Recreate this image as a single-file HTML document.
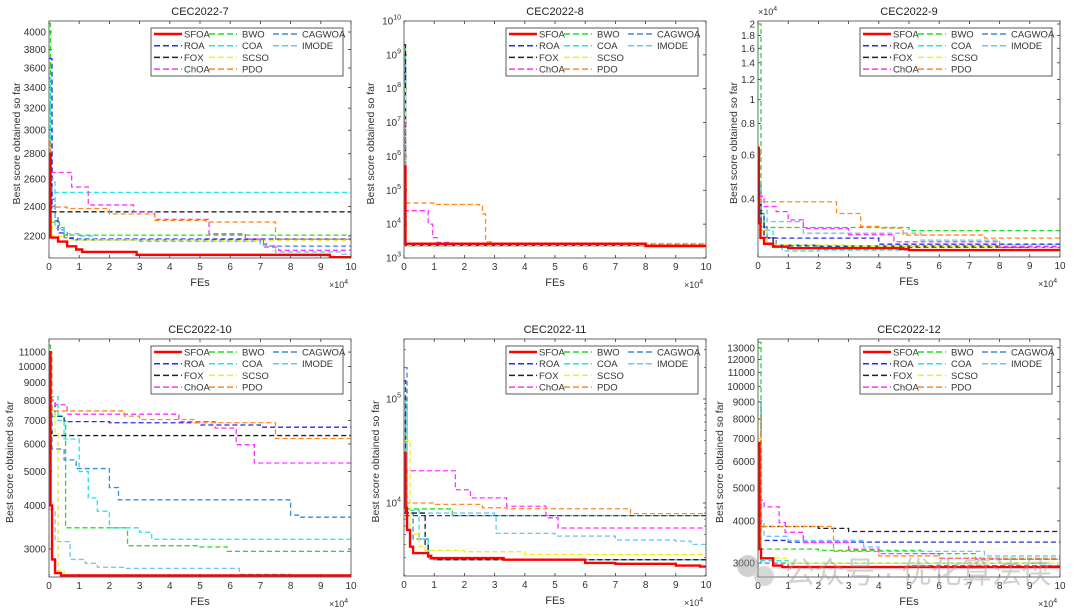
<!DOCTYPE html>
<html><head><meta charset="utf-8">
<style>
html,body{margin:0;padding:0;background:#fff;}
svg{display:block;font-family:"Liberation Sans",Arial,sans-serif;}
</style></head>
<body>
<svg id="fig" width="1080" height="614" viewBox="0 0 1080 614" xmlns="http://www.w3.org/2000/svg">
<g id="wm" opacity="0.45">
  <circle cx="748" cy="566" r="11" fill="#999"/>
  <circle cx="764" cy="576" r="10" fill="#aaa"/>
  <text x="785" y="583" font-size="30" fill="#999" font-family="'Liberation Sans','Noto Sans CJK SC',sans-serif">公众号 · 优化算法侠</text>
</g>
</svg>
<script>
const seriesNames = ["SFOA","BWO","CAGWOA","ROA","COA","IMODE","FOX","SCSO","ChOA","PDO"];
const seriesColors = {SFOA:"#ff0000",BWO:"#22dd22",CAGWOA:"#3a8cd0",ROA:"#2a2ae8",COA:"#22e6e6",IMODE:"#6cc6ee",FOX:"#222222",SCSO:"#f0f020",ChOA:"#ff30ff",PDO:"#ff8a20"};
const xTicks = [0,1,2,3,4,5,6,7,8,9,10];

const f7 = {
 SFOA:[[0,2800],[0.05,2190],[0.3,2165],[0.6,2135],[0.9,2115],[1.1,2100],[2.9,2082],[9.3,2068]],
 BWO:[[0,4100],[0.05,2290],[0.35,2255],[0.5,2206]],
 CAGWOA:[[0,3000],[0.1,2450],[0.2,2330],[0.3,2240],[0.5,2190],[0.8,2175],[7,2150],[7.2,2136]],
 ROA:[[0,3700],[0.1,2400],[0.2,2300],[0.3,2220],[0.6,2185],[0.8,2181]],
 COA:[[0,3500],[0.05,2550],[0.1,2500]],
 IMODE:[[0,2600],[0.2,2250],[0.5,2215],[1,2200],[1.5,2175],[3,2165],[7,2140],[7.5,2100],[9.7,2085]],
 FOX:[[0,2400],[0.1,2362]],
 SCSO:[[0,2300],[0.1,2200],[0.6,2175],[5,2170]],
 ChOA:[[0,2700],[0.05,2650],[0.75,2540],[1.3,2410],[2.8,2360],[3.5,2310],[5.3,2215],[6.5,2180],[7.1,2130],[7.6,2110]],
 PDO:[[0,2900],[0.05,2395],[0.6,2385],[2,2347],[3.5,2303],[5.2,2292],[7.5,2179]]
};
const f8 = {
 SFOA:[[0,5e5],[0.05,2650],[8,2250]],
 BWO:[[0,1.5e9],[0.05,2300]],
 CAGWOA:[[0,5e8],[0.05,2250]],
 ROA:[[0,3e8],[0.05,2350]],
 COA:[[0,8e8],[0.05,2300]],
 IMODE:[[0,2e8],[0.05,2250]],
 FOX:[[0,2e9],[0.05,2400],[8,2500]],
 SCSO:[[0,1e8],[0.05,2300]],
 ChOA:[[0,1e7],[0.05,2.5e4],[0.8,1e4],[0.95,4000],[1.1,2900],[1.5,2700],[4,2600]],
 PDO:[[0,1e6],[0.05,4.2e4],[1,3.8e4],[2.5,3.4e4],[2.6,2e4],[2.7,3000],[2.9,2700],[7.5,2500]]
};
const f9 = {
 SFOA:[[0,6400],[0.03,3200],[0.08,2800],[0.2,2650],[0.5,2580],[1,2545],[4.7,2525],[5,2500]],
 BWO:[[0,20000],[0.1,3500],[0.2,3077],[5,2990]],
 CAGWOA:[[0,4500],[0.1,3100],[0.3,2800],[0.6,2620],[2,2600],[8,2560]],
 ROA:[[0,3500],[0.2,3000],[0.3,2790],[4,2640]],
 COA:[[0,4700],[0.1,3000],[0.5,2600],[0.8,2480],[2,2500]],
 IMODE:[[0,3600],[0.3,3250],[1.5,2920],[5.4,2740],[8,2620]],
 FOX:[[0,3800],[0.1,3200],[0.2,2800],[0.5,2600],[2,2570]],
 SCSO:[[0,3000],[0.3,2620],[3,2590],[9,2560]],
 ChOA:[[0,4100],[0.2,3730],[0.6,3560],[1,3300],[1.5,3050],[3,2880],[4.5,2700],[8,2580]],
 PDO:[[0,4000],[0.1,3900],[2.6,3500],[3.4,3110],[4,3060],[4.8,2870],[7.5,2790]]
};
const f10 = {
 SFOA:[[0,11000],[0.05,4000],[0.1,2800],[0.2,2560],[0.4,2520]],
 BWO:[[0,11500],[0.05,7200],[0.5,7000],[0.55,3450],[2.6,3066],[5,3040],[5.9,2954]],
 CAGWOA:[[0,8000],[0.1,5800],[0.5,5400],[0.9,5100],[2,4500],[2.3,4150],[8,3750],[8.3,3700]],
 ROA:[[0,8000],[0.2,7200],[0.5,6950],[2,6900],[5,6800],[7,6700]],
 COA:[[0,8200],[0.3,7000],[0.5,6200],[1,5000],[1.3,4200],[1.6,3850],[2,3450],[3,3350],[3.4,3200]],
 IMODE:[[0,3900],[0.2,3150],[0.7,2800],[1.2,2730],[1.6,2660],[2.5,2640],[6.3,2540],[8,2525]],
 FOX:[[0,6500],[0.1,6340]],
 SCSO:[[0,7500],[0.2,6400],[0.3,2600],[0.5,2520]],
 ChOA:[[0,8000],[0.2,7770],[0.6,7300],[4.3,6950],[5.5,6660],[6.2,5970],[6.8,5290]],
 PDO:[[0,11000],[0.1,7460],[2.5,7210],[3,7050],[4.8,6900],[7.5,6220]]
};
const f11 = {
 SFOA:[[0,30000],[0.05,9000],[0.1,5500],[0.2,3800],[0.3,3300],[0.8,3100],[0.9,2950],[3.3,2850],[6,2650],[7,2600],[9,2500],[9.8,2450]],
 BWO:[[0,1e5],[0.05,8760],[1.6,7560]],
 CAGWOA:[[0,2e5],[0.1,8000],[0.3,4500],[0.8,2900],[1,2850]],
 ROA:[[0,1.5e5],[0.05,7560]],
 COA:[[0,9e4],[0.1,8500],[0.5,4500],[0.8,3000],[1,2850]],
 IMODE:[[0,8e4],[0.1,8000],[3,7300],[3.05,5100],[5,4800],[7,4400],[9,4300],[9.5,4000],[10,3500]],
 FOX:[[0,8000],[0.7,4000],[0.8,2950],[1,2850]],
 SCSO:[[0,4e4],[0.2,5000],[0.5,3800],[0.7,3500],[2,3400],[4,3200]],
 ChOA:[[0,25000],[0.05,20400],[1.7,13400],[2.2,11200],[3.4,9300],[4.7,7200],[5.1,5750]],
 PDO:[[0,2e4],[0.1,10000],[1,9700],[2.6,9000],[3.4,8800],[7.5,7900]]
};
const f12 = {
 SFOA:[[0,6800],[0.05,3300],[0.1,3100],[0.5,2950],[0.8,2920]],
 BWO:[[0,13500],[0.1,3300],[2,3270],[5.4,3200],[7.2,3080]],
 CAGWOA:[[0,9000],[0.1,3000],[1,2930],[5,2950]],
 ROA:[[0,8000],[0.1,3500],[1,3460]],
 COA:[[0,8000],[0.1,3050],[1,3000],[9.5,2950]],
 IMODE:[[0,4000],[0.2,3600],[1,3500],[3.5,3350],[4,3250],[7.5,3150]],
 FOX:[[0,4200],[0.1,3850],[2,3800],[3,3720]],
 SCSO:[[0,7000],[0.1,3100],[1,3000],[6,3000]],
 ChOA:[[0,4600],[0.2,4400],[0.7,3950],[0.9,3700],[1.5,3450],[3,3300],[4,3200],[6,3100],[8,3080]],
 PDO:[[0,8000],[0.1,3850],[2.5,3250],[4,3150],[6,3100]]
};
const ticks7 = [2200,2400,2600,2800,3000,3200,3400,3600,3800,4000];
const ticks8 = [1e3,1e4,1e5,1e6,1e7,1e8,1e9,1e10];
const ticks9 = [4000,6000,8000,10000,12000,14000,16000,18000,20000];
const ticks9Labels = ["0.4","0.6","0.8","1","1.2","1.4","1.6","1.8","2"];
const ticks10 = [3000,4000,5000,6000,7000,8000,9000,10000,11000];
const ticks11 = [1e4,1e5];
const ticks12 = [3000,4000,5000,6000,7000,8000,9000,10000,11000,12000,13000];

const panels = [
 {id:"7",data:f7,L:49,R:351,T:21,B:258,ymin:2063,ymax:4131,ticks:ticks7,fmt:"num",ylx:16},
 {id:"8",data:f8,L:404,R:706,T:21,B:258,ymin:1e3,ymax:1e10,ticks:ticks8,fmt:"pow",ylx:370},
 {id:"9",data:f9,L:758,R:1060,T:21,B:257,ymin:2346,ymax:20560,ticks:ticks9,labels:ticks9Labels,fmt:"lab",ylx:733,mult:true},
 {id:"10",data:f10,L:49,R:351,T:339,B:577,ymin:2494,ymax:11990,ticks:ticks10,fmt:"num",ylx:9},
 {id:"11",data:f11,L:404,R:706,T:339,B:576,ymin:1986,ymax:377000,ticks:ticks11,fmt:"pow",ylx:375,minor:true},
 {id:"12",data:f12,L:758,R:1060,T:339,B:577,ymin:2729,ymax:13800,ticks:ticks12,fmt:"num",ylx:719}
];
const NS="http://www.w3.org/2000/svg";
const svg=document.getElementById('fig');
const wm=document.getElementById('wm');
function mk(tag,attrs,parent){const e=document.createElementNS(NS,tag);for(const k in attrs)e.setAttribute(k,attrs[k]);(parent||svg).appendChild(e);return e;}

panels.forEach(p=>{
 const g=mk('g',{});
 
 
 svg.insertBefore(g,wm);
 const lmin=Math.log10(p.ymin),lmax=Math.log10(p.ymax);
 const xs=v=>p.L+v/10*(p.R-p.L);
 const ys=v=>p.B-(Math.log10(v)-lmin)/(lmax-lmin)*(p.B-p.T);
 const cp=mk('clipPath',{id:'cp'+p.id},g);
 mk('rect',{x:p.L,y:p.T,width:p.R-p.L,height:p.B-p.T},cp);
 const title=mk('text',{x:(p.L+p.R)/2,y:p.T-6,'text-anchor':'middle','font-size':11,fill:'#222'},g);
 title.textContent='CEC2022-'+p.id;
 
 
 // x ticks
 xTicks.forEach(t=>{
  const x=xs(t);
  mk('line',{x1:x,x2:x,y1:p.B,y2:p.B-3,stroke:'#333','stroke-width':0.8},g);
  mk('line',{x1:x,x2:x,y1:p.T,y2:p.T+3,stroke:'#333','stroke-width':0.8},g);
  const tl=mk('text',{x:x,y:p.B+12,'text-anchor':'middle','font-size':10,fill:'#333'},g);
  tl.textContent=t;
  
  
 });
 const xl=mk('text',{x:(p.L+p.R)/2,y:p.B+28,'text-anchor':'middle','font-size':11,fill:'#333'},g);
 xl.textContent='FEs';
 
 
 const xm=mk('text',{x:p.R-22,y:p.B+30,'font-size':9,fill:'#333'},g);
 xm.innerHTML='×10<tspan dy="-4" font-size="7">4</tspan>';
 
 
 // y ticks
 p.ticks.forEach((t,i)=>{
  const y=ys(t);
  mk('line',{x1:p.L,x2:p.L+3,y1:y,y2:y,stroke:'#333','stroke-width':0.8},g);
  mk('line',{x1:p.R,x2:p.R-3,y1:y,y2:y,stroke:'#333','stroke-width':0.8},g);
  const tl=mk('text',{x:p.L-3,y:y+3.5,'text-anchor':'end','font-size':10,fill:'#333'},g);
  if(p.fmt==='pow'){tl.innerHTML='10<tspan dy="-5" font-size="7">'+Math.round(Math.log10(t))+'</tspan>';}
  else if(p.fmt==='lab'){tl.textContent=p.labels[i];}
  else tl.textContent=t;
  
  
 });
 if(p.minor){
  for(let d=3;d<=5;d++)for(let m=2;m<=9;m++){const v=m*Math.pow(10,d);if(v<p.ymin||v>p.ymax)continue;const y=ys(v);
   mk('line',{x1:p.L,x2:p.L+2,y1:y,y2:y,stroke:'#333','stroke-width':0.6},g);
   mk('line',{x1:p.R,x2:p.R-2,y1:y,y2:y,stroke:'#333','stroke-width':0.6},g);}
 }
 if(p.mult){
  const ym=mk('text',{x:p.L,y:p.T-6,'font-size':9,fill:'#333'},g);
  ym.innerHTML='×10<tspan dy="-4" font-size="7">4</tspan>';
  
  
 }
 const cy=(p.T+p.B)/2;
 const yl=mk('text',{x:p.ylx,y:cy,'text-anchor':'middle','font-size':10.5,fill:'#333',transform:'rotate(-90 '+(p.ylx+4)+' '+cy+')'},g);
 yl.textContent='Best score obtained so far';
 
 
 // series
 const lg=mk('g',{'clip-path':'url(#cp'+p.id+')'},g);
 const order=seriesNames.filter(n=>n!=='SFOA').concat(['SFOA']);
 order.forEach(n=>{
  const pts=p.data[n];let d='';
  pts.forEach((pt,i)=>{const x=xs(pt[0]),y=ys(pt[1]);
   if(i===0)d+='M'+x+' '+y;else d+=' H'+x+' V'+y;});
  d+=' H'+xs(10);
  const path=mk('path',{d:d,fill:'none',stroke:seriesColors[n],'stroke-width':n==='SFOA'?2.4:1.3,'stroke-dasharray':n==='SFOA'?'none':'5,3'},lg);
  
  
 });
 const box=mk('rect',{x:p.L,y:p.T,width:p.R-p.L,height:p.B-p.T,fill:'none',stroke:'#444','stroke-width':0.8},g);
 
 
 // legend
 const lx=p.R-200,ly=p.T+7;
 const leg=mk('g',{},g);
 
 
 mk('rect',{x:lx,y:ly,width:192,height:48,fill:'#fff',stroke:'#333','stroke-width':0.8},leg);
 const cols=[["SFOA","ROA","FOX","ChOA"],["BWO","COA","SCSO","PDO"],["CAGWOA","IMODE"]];
 const cx=[[3,31,33],[58,86,91],[122,149,151]];
 cols.forEach((col,ci)=>col.forEach((n,ri)=>{
  const y=ly+6+ri*11.7;
  const e=mk('g',{},leg);
  
  
  mk('line',{x1:lx+cx[ci][0],x2:lx+cx[ci][1],y1:y,y2:y,stroke:seriesColors[n],'stroke-width':n==='SFOA'?2.4:1.5,'stroke-dasharray':n==='SFOA'?'none':'6,3'},e);
  const t=mk('text',{x:lx+cx[ci][2],y:y+3.5,'font-size':9.5,fill:'#333'},e);
  t.textContent=n;
 }));
});
</script>
</body></html>
